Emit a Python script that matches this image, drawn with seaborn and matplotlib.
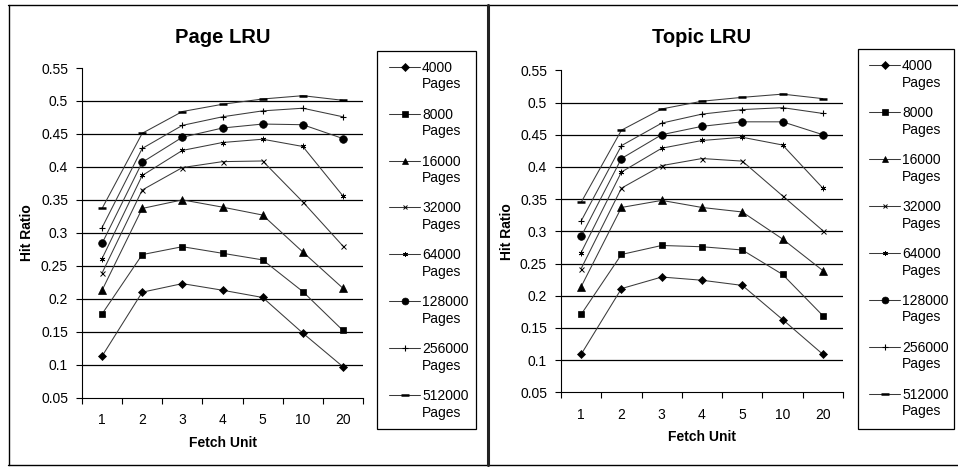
import matplotlib
matplotlib.use("Agg")
import matplotlib.pyplot as plt
import seaborn as sns
import pandas as pd
from matplotlib.lines import Line2D
from matplotlib.patches import Rectangle

# ---------------- data ----------------
fetch_units = ["1", "2", "3", "4", "5", "10", "20"]
cache_sizes = ["4000", "8000", "16000", "32000", "64000", "128000", "256000", "512000"]
y_ticks = [0.05, 0.1, 0.15, 0.2, 0.25, 0.3, 0.35, 0.4, 0.45, 0.5, 0.55]

page_4000 = [0.113, 0.210, 0.223, 0.213, 0.202, 0.148, 0.097]
page_8000 = [0.177, 0.267, 0.279, 0.269, 0.259, 0.211, 0.152]
page_16000 = [0.213, 0.337, 0.350, 0.339, 0.327, 0.271, 0.216]
page_32000 = [0.239, 0.365, 0.399, 0.408, 0.409, 0.347, 0.280]
page_64000 = [0.261, 0.387, 0.425, 0.437, 0.442, 0.431, 0.356]
page_128000 = [0.284, 0.407, 0.445, 0.459, 0.465, 0.464, 0.443]
page_256000 = [0.308, 0.428, 0.463, 0.476, 0.485, 0.489, 0.476]
page_512000 = [0.337, 0.451, 0.484, 0.495, 0.503, 0.508, 0.501]

topic_4000 = [0.109, 0.211, 0.229, 0.224, 0.216, 0.163, 0.109]
topic_8000 = [0.171, 0.264, 0.278, 0.276, 0.271, 0.233, 0.169]
topic_16000 = [0.214, 0.337, 0.348, 0.337, 0.330, 0.288, 0.239]
topic_32000 = [0.242, 0.367, 0.402, 0.413, 0.409, 0.355, 0.301]
topic_64000 = [0.267, 0.392, 0.429, 0.441, 0.446, 0.434, 0.367]
topic_128000 = [0.292, 0.413, 0.450, 0.463, 0.470, 0.470, 0.450]
topic_256000 = [0.316, 0.433, 0.468, 0.482, 0.489, 0.492, 0.483]
topic_512000 = [0.345, 0.457, 0.490, 0.502, 0.508, 0.513, 0.506]

page_lru = [page_4000, page_8000, page_16000, page_32000,
            page_64000, page_128000, page_256000, page_512000]
topic_lru = [topic_4000, topic_8000, topic_16000, topic_32000,
             topic_64000, topic_128000, topic_256000, topic_512000]

# ---------------- style ----------------
sns.set_theme(style="white")
plt.rcParams["font.family"] = ["Liberation Sans", "DejaVu Sans"]
for key in ["text.color", "axes.labelcolor", "xtick.color", "ytick.color"]:
    plt.rcParams[key] = "black"

marker_styles = [
    dict(marker="D", markersize=4.5, mew=0.5),
    dict(marker="s", markersize=5, mew=0.5),
    dict(marker="^", markersize=5.5, mew=0.5),
    dict(marker="x", markersize=3.6, mew=0.7),
    dict(marker=(6, 2, 0), markersize=4, mew=0.6),
    dict(marker="o", markersize=5.5, mew=0.5),
    dict(marker="+", markersize=5, mew=0.8),
    dict(marker="_", markersize=6, mew=1.8),
]

W, H = 958, 468
fig = plt.figure(figsize=(W / 100, H / 100), dpi=100)


def fx(px):
    return px / W


def fy(py):
    return 1 - py / H


def make_df(values):
    rows = []
    for name, vals in zip(cache_sizes, values):
        for i, v in enumerate(vals):
            rows.append({"size": name, "pos": i, "ratio": v})
    return pd.DataFrame(rows)


def draw_panel(values, rect, title, title_y, ylabel_x, xlabel_y):
    ax = fig.add_axes(rect)
    df = make_df(values)
    for grid_y in y_ticks[1:-1]:
        ax.axhline(grid_y, color="black", lw=0.9, zorder=1)
    for name, ms in zip(cache_sizes, marker_styles):
        sub = df[df["size"] == name]
        sns.lineplot(data=sub, x="pos", y="ratio", ax=ax, color="#3a3a3a",
                     lw=0.75, mfc="black", mec="black", legend=False,
                     zorder=3, **ms)
    ax.set_xlim(-0.5, len(fetch_units) - 0.5)
    ax.set_ylim(0.05, 0.55)
    ax.set_yticks(y_ticks)
    ax.set_yticklabels([f"{t:g}" for t in y_ticks], fontsize=10)
    ax.set_xticks([i - 0.5 for i in range(len(fetch_units) + 1)])
    ax.set_xticklabels([])
    ax.set_xticks(range(len(fetch_units)), minor=True)
    ax.set_xticklabels(fetch_units, minor=True, fontsize=10)
    ax.tick_params(axis="x", which="major", direction="out", length=4,
                   width=0.8, color="black", bottom=True)
    ax.tick_params(axis="x", which="minor", length=0, pad=11, bottom=True)
    ax.tick_params(axis="y", direction="out", length=4, width=0.8,
                   color="black", left=True, pad=6)
    for s in ["top", "right"]:
        ax.spines[s].set_visible(False)
    for s in ["left", "bottom"]:
        ax.spines[s].set_color("black")
        ax.spines[s].set_linewidth(0.8)
    ax.set_xlabel("")
    ax.set_ylabel("")
    cx = rect[0] + rect[2] / 2
    fig.text(cx, fy(title_y), title, ha="center", va="baseline",
             fontsize=14.5, fontweight="bold")
    fig.text(cx, fy(xlabel_y), "Fetch Unit", ha="center", va="center",
             fontsize=10, fontweight="bold")
    fig.text(fx(ylabel_x), rect[1] + rect[3] / 2, "Hit Ratio", ha="center",
             va="center", rotation=90, fontsize=10, fontweight="bold")
    return ax


def draw_legend(box, line_x0, line_x1, text_x, first_y, step):
    x0, y0, x1, y1 = box
    fig.add_artist(Rectangle((fx(x0), fy(y1)), fx(x1) - fx(x0), fy(y0) - fy(y1),
                             transform=fig.transFigure, fill=False,
                             edgecolor="black", lw=0.9))
    for i, (name, ms) in enumerate(zip(cache_sizes, marker_styles)):
        yc = first_y + step * i
        fig.add_artist(Line2D([fx(line_x0), fx(line_x1)], [fy(yc), fy(yc)],
                              transform=fig.transFigure, color="#3a3a3a",
                              lw=0.75))
        fig.add_artist(Line2D([fx((line_x0 + line_x1) / 2)], [fy(yc)],
                              transform=fig.transFigure, color="black",
                              mfc="black", mec="black", lw=0,
                              marker=ms["marker"],
                              markersize=ms["markersize"] * 0.9,
                              mew=ms["mew"]))
        fig.text(fx(text_x), fy(yc + 5), name, ha="left", va="baseline",
                 fontsize=10)
        fig.text(fx(text_x), fy(yc + 21.7), "Pages", ha="left",
                 va="baseline", fontsize=10)


# left panel
draw_panel(page_lru, [fx(82), fy(397.7), fx(363) - fx(82), fy(68) - fy(397.7)],
           "Page LRU", 42.7, 27, 443)
draw_legend((377, 51, 476, 429), 389, 420, 422, 66.7, 46.9)

# right panel
draw_panel(topic_lru, [fx(561), fy(392.3), fx(843) - fx(561), fy(70.3) - fy(392.3)],
           "Topic LRU", 42.7, 507, 437)
draw_legend((858, 49, 954, 429), 869, 900, 902, 65.3, 46.9)

# frame lines
fig.add_artist(Line2D([fx(8), 1], [fy(4.5), fy(4.5)], transform=fig.transFigure,
                      color="black", lw=1.0))
fig.add_artist(Line2D([fx(8), 1], [fy(464.5), fy(464.5)], transform=fig.transFigure,
                      color="black", lw=1.0))
fig.add_artist(Line2D([fx(8.5), fx(8.5)], [fy(4.5), fy(464.5)],
                      transform=fig.transFigure, color="black", lw=1.0))
fig.add_artist(Line2D([fx(488), fx(488)], [fy(4.5), fy(464.5)],
                      transform=fig.transFigure, color="#222222", lw=2.2))

fig.savefig("out.png", dpi=100, facecolor="white")
